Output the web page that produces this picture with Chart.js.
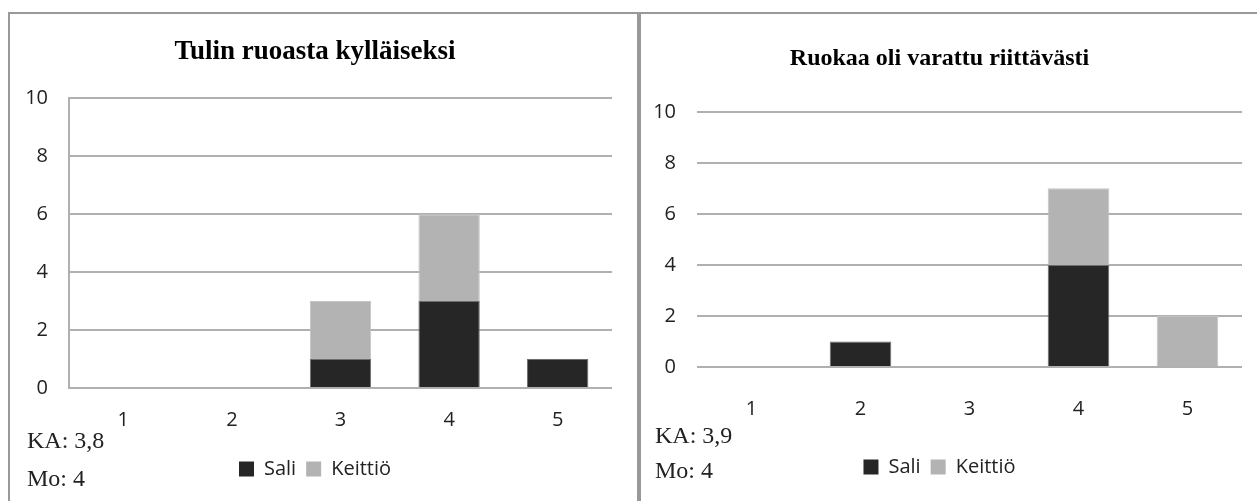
<!DOCTYPE html>
<html lang="fi">
<head>
<meta charset="utf-8">
<title>Ruokakysely</title>
<script src="https://cdn.jsdelivr.net/npm/chart.js@4"></script>
<style>
  html, body { margin: 0; padding: 0; background: #fff; }
  body { width: 1257px; height: 501px; position: relative; overflow: hidden; }
  .rule { position: absolute; background: #999; }
  canvas { position: absolute; }
  .stat {
    position: absolute;
    font-family: "Liberation Serif", "DejaVu Serif", serif;
    font-size: 24px;
    line-height: 30px;
    color: #222;
    white-space: nowrap;
  }
</style>
</head>
<body>
<div class="rule" style="left:8px; top:12px; width:1249px; height:2px;"></div>
<div class="rule" style="left:8px; top:12px; width:2px; height:489px;"></div>
<div class="rule" style="left:637px; top:12px; width:4px; height:489px;"></div>

<canvas id="chartA" width="627" height="486" style="left:10px; top:15px;"></canvas>
<canvas id="chartB" width="624" height="486" style="left:633px; top:15px;"></canvas>

<div class="stat" id="kaA" style="left:27px; top:425px;"></div>
<div class="stat" id="moA" style="left:27px; top:463px;"></div>
<div class="stat" id="kaB" style="left:655px; top:420px;"></div>
<div class="stat" id="moB" style="left:655px; top:455px;"></div>

<script>
// Answer scale (1 = lowest, 5 = highest)
const categories = ['1', '2', '3', '4', '5'];

// "Tulin ruoasta kylläiseksi"
const titleA = 'Tulin ruoasta kylläiseksi';
const saliA = [0, 0, 1, 3, 1];
const keittioA = [0, 0, 2, 3, 0];
const meanA = 'KA: 3,8';
const modeA = 'Mo: 4';

// "Ruokaa oli varattu riittävästi"
const titleB = 'Ruokaa oli varattu riittävästi';
const saliB = [0, 1, 0, 4, 0];
const keittioB = [0, 0, 0, 3, 2];
const meanB = 'KA: 3,9';
const modeB = 'Mo: 4';

const seriesNames = ['Sali', 'Keittiö'];
const yTicks = [0, 2, 4, 6, 8, 10];

const SALI_COLOR = '#262626';
const SALI_EDGE = '#6e6e6e';
const KEITTIO_COLOR = '#b3b3b3';
const KEITTIO_EDGE = '#c4c4c4';
const GRID_COLOR = '#b0b0b0';
const TICK_FONT = { family: '"Open Sans", "Noto Sans", sans-serif', size: 20 };

document.getElementById('kaA').textContent = meanA;
document.getElementById('moA').textContent = modeA;
document.getElementById('kaB').textContent = meanB;
document.getElementById('moB').textContent = modeB;

function makeChart(canvasId, cfg) {
  return new Chart(document.getElementById(canvasId), {
    type: 'bar',
    data: {
      labels: categories,
      datasets: [
        { label: seriesNames[0], data: cfg.sali, backgroundColor: SALI_COLOR, borderColor: SALI_EDGE, borderWidth: 1 },
        { label: seriesNames[1], data: cfg.keittio, backgroundColor: KEITTIO_COLOR, borderColor: KEITTIO_EDGE, borderWidth: 1 }
      ]
    },
    options: {
      responsive: false,
      devicePixelRatio: 1,
      animation: false,
      events: [],
      datasets: { bar: { categoryPercentage: 1, barPercentage: 0.565 } },
      layout: { padding: { left: cfg.padL, right: cfg.padR, top: 0, bottom: cfg.padB } },
      plugins: {
        title: {
          display: true,
          text: cfg.title,
          color: '#000',
          font: { family: '"Liberation Serif", "DejaVu Serif", serif', size: cfg.titleSize, weight: 'bold', lineHeight: 1.2 },
          padding: { top: cfg.titleTop, bottom: cfg.titleBottom }
        },
        legend: {
          display: true,
          position: 'bottom',
          labels: {
            boxWidth: 15,
            boxHeight: 15,
            padding: 10,
            color: '#222',
            font: TICK_FONT,
            generateLabels: (chart) => Chart.defaults.plugins.legend.labels.generateLabels(chart)
              .map(item => Object.assign(item, { lineWidth: 0 }))
          }
        },
        tooltip: { enabled: false }
      },
      scales: {
        x: {
          stacked: true,
          grid: { display: false, drawTicks: false },
          border: { display: false },
          ticks: { color: '#222', font: TICK_FONT, padding: cfg.xPad, maxRotation: 0 },
          afterFit: (scale) => { scale.height = cfg.xHeight; }
        },
        y: {
          stacked: true,
          min: 0,
          max: 10,
          afterBuildTicks: (scale) => { scale.ticks = yTicks.map(v => ({ value: v })); },
          grid: { color: GRID_COLOR, lineWidth: 2, drawTicks: false },
          border: { display: cfg.yBorder, color: GRID_COLOR, width: 2 },
          ticks: { color: '#222', font: TICK_FONT, padding: cfg.yPad },
          afterFit: (scale) => { scale.width = cfg.yWidth; }
        }
      }
    }
  });
}

makeChart('chartA', {
  title: titleA, sali: saliA, keittio: keittioA,
  titleSize: 27, titleTop: 21, titleBottom: 30,
  padL: 8, padR: 25, padB: 12,
  yWidth: 51, yPad: 21, yBorder: true,
  xPad: 20, xHeight: 61
});

makeChart('chartB', {
  title: titleB, sali: saliB, keittio: keittioB,
  titleSize: 24, titleTop: 29, titleBottom: 39,
  padL: 4, padR: 15, padB: 14,
  yWidth: 60, yPad: 21, yBorder: false,
  xPad: 30, xHeight: 80
});
</script>
</body>
</html>
